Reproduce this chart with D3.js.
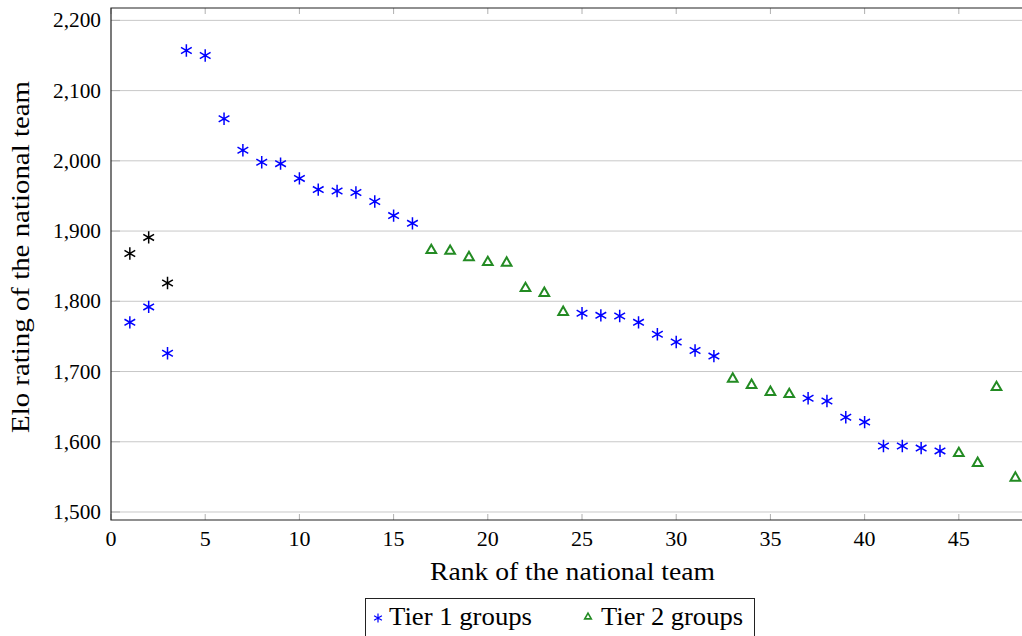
<!DOCTYPE html>
<html>
<head>
<meta charset="utf-8">
<title>Elo rating by rank</title>
<script src="https://cdn.jsdelivr.net/npm/d3@7"></script>
<style>
body { margin: 0; background: #fff; }
svg text { font-family: "Liberation Serif", "DejaVu Serif", serif; fill: #000; }
</style>
</head>
<body>
<script>
// ranks and Elo ratings
const tier1Rank = [1, 2, 3, 4, 5, 6, 7, 8, 9, 10, 11, 12, 13, 14, 15, 16,
  25, 26, 27, 28, 29, 30, 31, 32, 37, 38, 39, 40, 41, 42, 43, 44];
const tier1Elo = [1770, 1792, 1726, 2157, 2150, 2060, 2015, 1998, 1996, 1975, 1959, 1957, 1955, 1942, 1922, 1911,
  1783, 1780, 1779, 1770, 1753, 1742, 1730, 1722, 1662, 1658, 1635, 1628, 1594, 1594, 1591, 1587];
const tier2Rank = [17, 18, 19, 20, 21, 22, 23, 24, 33, 34, 35, 36, 45, 46, 47, 48];
const tier2Elo = [1874, 1873, 1864, 1857, 1856, 1820, 1813, 1786, 1691, 1682, 1672, 1669, 1585, 1571, 1679, 1550];
const otherRank = [1, 2, 3];
const otherElo = [1868, 1891, 1826];

const xTicks = [0, 5, 10, 15, 20, 25, 30, 35, 40, 45];
const yTicks = [1500, 1600, 1700, 1800, 1900, 2000, 2100, 2200];

const width = 1022, height = 636;
const pLeft = 111, pRight = 1021, pTop = 8, pBottom = 520;

const svg = d3.select("body").append("svg")
  .attr("width", width).attr("height", height);

const x = d3.scaleLinear().domain([0, 48.3]).range([pLeft, pRight]);
const y = d3.scaleLinear().domain([1488.6, 2217.6]).range([pBottom, pTop]);

const fmt = d3.format(",");

// horizontal grid
svg.append("g").selectAll("line")
  .data(yTicks).join("line")
  .attr("x1", pLeft).attr("x2", pRight + 2)
  .attr("y1", d => y(d)).attr("y2", d => y(d))
  .attr("stroke", "#c8c8c8").attr("stroke-width", 1);

// ticks, inward
const tk = svg.append("g").attr("stroke", "#b0b0b0").attr("stroke-width", 1);
tk.selectAll(".tb").data(xTicks).join("line")
  .attr("x1", d => x(d)).attr("x2", d => x(d))
  .attr("y1", pBottom).attr("y2", pBottom - 6);
tk.selectAll(".tt").data(xTicks).join("line")
  .attr("x1", d => x(d)).attr("x2", d => x(d))
  .attr("y1", pTop).attr("y2", pTop + 6);
tk.selectAll(".tl").data(yTicks).join("line")
  .attr("x1", pLeft).attr("x2", pLeft + 9)
  .attr("y1", d => y(d)).attr("y2", d => y(d));

// frame (left, top, bottom)
svg.append("path")
  .attr("d", `M${pRight + 2},${pTop}H${pLeft}V${pBottom}H${pRight + 2}`)
  .attr("fill", "none").attr("stroke", "#222").attr("stroke-width", 1.2);

// tick labels
svg.append("g").selectAll("text")
  .data(xTicks).join("text")
  .attr("x", d => x(d)).attr("y", 546)
  .attr("text-anchor", "middle").attr("font-size", 22)
  .text(d => d);

svg.append("g").selectAll("text")
  .data(yTicks).join("text")
  .attr("x", 101).attr("y", d => y(d) + 7)
  .attr("text-anchor", "end").attr("font-size", 22)
  .attr("textLength", 48).attr("lengthAdjust", "spacingAndGlyphs")
  .text(d => fmt(d));

// axis titles
svg.append("text")
  .attr("x", 430).attr("y", 580)
  .attr("font-size", 25)
  .attr("textLength", 285).attr("lengthAdjust", "spacingAndGlyphs")
  .text("Rank of the national team");

svg.append("text")
  .attr("transform", "translate(29,433) rotate(-90)")
  .attr("font-size", 25)
  .attr("textLength", 352).attr("lengthAdjust", "spacingAndGlyphs")
  .text("Elo rating of the national team");

// markers
function asterisk(r) {
  let p = "";
  [90, 30, 150].forEach(a => {
    const dx = r * Math.cos(a * Math.PI / 180), dy = r * Math.sin(a * Math.PI / 180);
    p += `M${-dx},${-dy}L${dx},${dy}`;
  });
  return p;
}
function triangle(r) {
  const h = r * 0.866;
  return `M0,${-r}L${h},${r / 2}L${-h},${r / 2}Z`;
}

function drawStars(g, xs, ys, color) {
  g.selectAll("path").data(xs).join("path")
    .attr("transform", (d, i) => `translate(${x(d)},${y(ys[i])})`)
    .attr("d", asterisk(6.2))
    .attr("fill", "none").attr("stroke", color).attr("stroke-width", 1.5);
}

drawStars(svg.append("g"), otherRank, otherElo, "#000");
drawStars(svg.append("g"), tier1Rank, tier1Elo, "#0000ff");

svg.append("g").selectAll("path").data(tier2Rank).join("path")
  .attr("transform", (d, i) => `translate(${x(d)},${y(tier2Elo[i]) + 1})`)
  .attr("d", triangle(5.6))
  .attr("fill", "none").attr("stroke", "#238b23").attr("stroke-width", 2);

// legend
const lg = svg.append("g");
lg.append("rect")
  .attr("x", 365.5).attr("y", 598.5).attr("width", 389).attr("height", 50)
  .attr("fill", "#fff").attr("stroke", "#222").attr("stroke-width", 1);
lg.append("path").attr("transform", "translate(378,618)")
  .attr("d", asterisk(4.5)).attr("fill", "none").attr("stroke", "#0000ff").attr("stroke-width", 1.2);
lg.append("text").attr("x", 389).attr("y", 625).attr("font-size", 25)
  .attr("textLength", 143).attr("lengthAdjust", "spacingAndGlyphs").text("Tier 1 groups");
lg.append("path").attr("transform", "translate(588,617)")
  .attr("d", triangle(3.8)).attr("fill", "none").attr("stroke", "#238b23").attr("stroke-width", 1.6);
lg.append("text").attr("x", 601).attr("y", 625).attr("font-size", 25)
  .attr("textLength", 142).attr("lengthAdjust", "spacingAndGlyphs").text("Tier 2 groups");
</script>
</body>
</html>
